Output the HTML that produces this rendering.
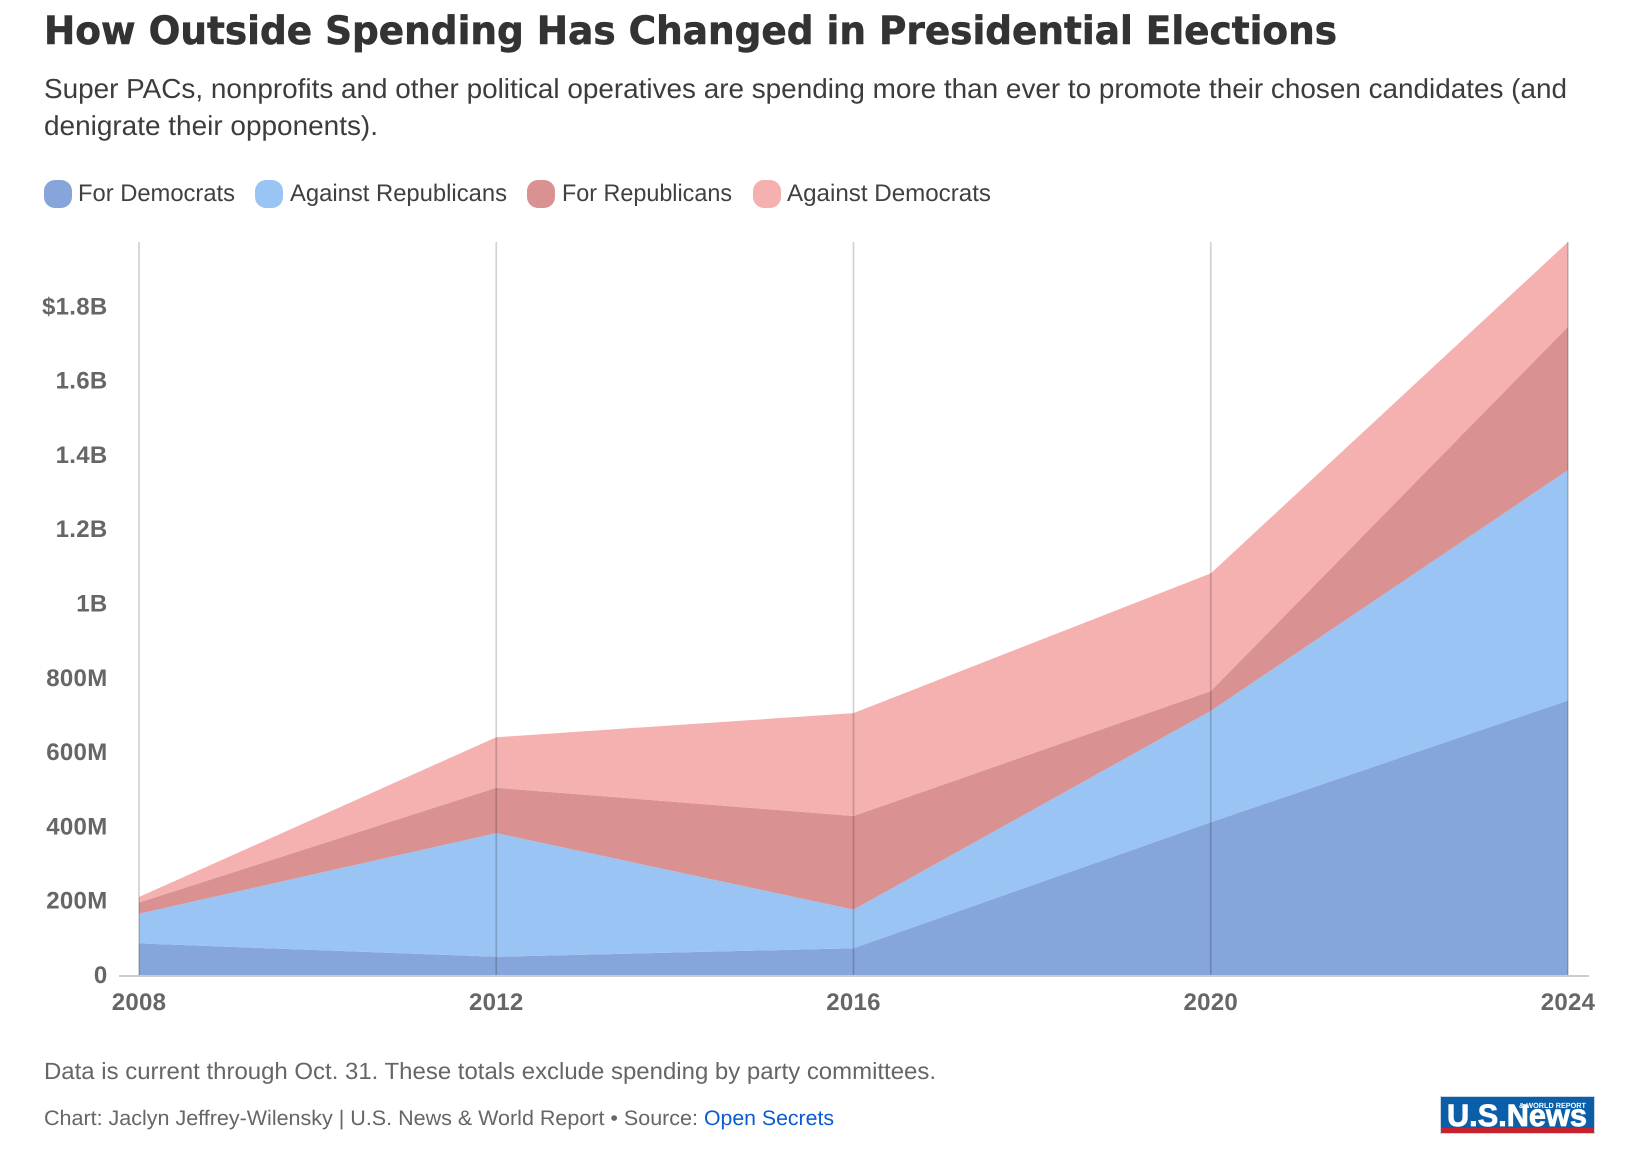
<!DOCTYPE html>
<html lang="en">
<head>
<meta charset="utf-8">
<title>How Outside Spending Has Changed in Presidential Elections</title>
<style>
html,body{margin:0;padding:0;background:#fff;}
svg{display:block;text-rendering:geometricPrecision;}
text{font-family:"Liberation Sans",sans-serif;}
.legend-label{font-size:24px;fill:#404040;}
.tick{font-size:24px;font-weight:700;fill:#666;letter-spacing:.3px;}
</style>
</head>
<body>
<svg id="chart" xmlns="http://www.w3.org/2000/svg" width="1634" height="1152" viewBox="0 0 1634 1152">
  <rect x="0" y="0" width="1634" height="1152" fill="#fff"/>
  <text x="44" y="44" textLength="1293" lengthAdjust="spacingAndGlyphs" style="font-family:'DejaVu Sans',sans-serif;font-weight:700;font-size:39px" fill="#333" stroke="#333" stroke-width="0.6">How Outside Spending Has Changed in Presidential Elections</text>
  <text x="44" y="98" textLength="1523" lengthAdjust="spacingAndGlyphs" font-size="27.5" fill="#3c3c3c">Super PACs, nonprofits and other political operatives are spending more than ever to promote their chosen candidates (and</text>
  <text x="44" y="135" textLength="334" lengthAdjust="spacingAndGlyphs" font-size="27.5" fill="#3c3c3c">denigrate their opponents).</text>

  <g>
    <rect x="44" y="180" width="28" height="28" rx="11" fill="#86a5db"/>
    <text class="legend-label" x="78" y="201" textLength="157" lengthAdjust="spacingAndGlyphs">For Democrats</text>
    <rect x="255" y="180" width="28" height="28" rx="11" fill="#9ac4f3"/>
    <text class="legend-label" x="290" y="201" textLength="217" lengthAdjust="spacingAndGlyphs">Against Republicans</text>
    <rect x="527" y="180" width="28" height="28" rx="11" fill="#da9191"/>
    <text class="legend-label" x="562" y="201" textLength="170" lengthAdjust="spacingAndGlyphs">For Republicans</text>
    <rect x="753" y="180" width="28" height="28" rx="11" fill="#f5b0b0"/>
    <text class="legend-label" x="787" y="201" textLength="204" lengthAdjust="spacingAndGlyphs">Against Democrats</text>
  </g>

  <g id="areas"></g>
  <g id="grid"></g>
  <line x1="119" y1="976" x2="1589" y2="976" stroke="#ccc" stroke-width="2"/>
  <g id="yticks"></g>
  <g id="xticks"></g>

  <text x="44" y="1079" textLength="892" lengthAdjust="spacingAndGlyphs" font-size="23.5" fill="#666">Data is current through Oct. 31. These totals exclude spending by party committees.</text>
  <text x="44" y="1125" textLength="654" lengthAdjust="spacingAndGlyphs" font-size="21" fill="#666">Chart: Jaclyn Jeffrey-Wilensky | U.S. News &amp; World Report • Source:</text>
  <text x="704" y="1125" textLength="130" lengthAdjust="spacingAndGlyphs" font-size="21" fill="#0b5bd3" style="cursor:pointer">Open Secrets</text>

  <g>
    <rect x="1440.5" y="1096.5" width="154" height="37" fill="#0a5fa8" stroke="#c9d6e4" stroke-width="1"/>
    <rect x="1441" y="1128" width="153" height="5" fill="#c4232e"/>
    <text x="1447" y="1126" textLength="140" lengthAdjust="spacingAndGlyphs" font-size="31" font-weight="700" fill="#fff" stroke="#fff" stroke-width="0.8">U.S.News</text>
    <text x="1519" y="1108" textLength="67" lengthAdjust="spacingAndGlyphs" font-size="7.5" font-weight="700" fill="#fff">&amp; WORLD REPORT</text>
  </g>
</svg>
<script>
// Spending in millions of dollars.
var years = [2008, 2012, 2016, 2020, 2024];
var forDemocrats = [85, 49, 72, 411, 739];
var againstRepublicans = [80, 333, 104, 300, 620];
var forRepublicans = [30, 122, 252, 53, 386];
var againstDemocrats = [15, 136, 277, 317, 228];
var yTickValues = [0, 200, 400, 600, 800, 1000, 1200, 1400, 1600, 1800];
var yTickLabels = ['0', '200M', '400M', '600M', '800M', '1B', '1.2B', '1.4B', '1.6B', '$1.8B'];

var NS = 'http://www.w3.org/2000/svg';
var plotLeft = 139, plotRight = 1568, plotBottom = 975, pxPer200M = 74.3;

function xScale(year) {
  return plotLeft + (year - years[0]) / (years[years.length - 1] - years[0]) * (plotRight - plotLeft);
}
function yScale(value) {
  return plotBottom - value / 200 * pxPer200M;
}
function make(tag, parentId) {
  var el = document.createElementNS(NS, tag);
  document.getElementById(parentId).appendChild(el);
  return el;
}

var bands = [
  { name: 'area-for-democrats', values: forDemocrats, fill: '#86a5db' },
  { name: 'area-against-republicans', values: againstRepublicans, fill: '#9ac4f3' },
  { name: 'area-for-republicans', values: forRepublicans, fill: '#da9191' },
  { name: 'area-against-democrats', values: againstDemocrats, fill: '#f5b0b0' }
];

var baseline = years.map(function () { return 0; });
bands.forEach(function (band) {
  var top = baseline.map(function (b, i) { return b + band.values[i]; });
  var d = '';
  years.forEach(function (yr, i) {
    d += (i ? 'L' : 'M') + xScale(yr).toFixed(2) + ' ' + yScale(top[i]).toFixed(2);
  });
  for (var i = years.length - 1; i >= 0; i--) {
    d += 'L' + xScale(years[i]).toFixed(2) + ' ' + yScale(baseline[i]).toFixed(2);
  }
  d += 'Z';
  var path = make('path', 'areas');
  
  
  path.setAttribute('d', d);
  path.setAttribute('fill', band.fill);
  baseline = top;
});

var maxTotal = Math.max.apply(null, baseline);

years.forEach(function (yr) {
  var line = make('line', 'grid');
  
  
  line.setAttribute('x1', xScale(yr));
  line.setAttribute('x2', xScale(yr));
  line.setAttribute('y1', yScale(maxTotal));
  line.setAttribute('y2', plotBottom);
  line.setAttribute('stroke', 'rgba(0,0,0,0.18)');
  line.setAttribute('stroke-width', '1.7');

  var label = make('text', 'xticks');
  
  
  label.setAttribute('class', 'tick');
  label.setAttribute('x', xScale(yr));
  label.setAttribute('y', 1010);
  label.setAttribute('text-anchor', 'middle');
  label.textContent = String(yr);
});

yTickValues.forEach(function (v, i) {
  var label = make('text', 'yticks');
  
  
  label.setAttribute('class', 'tick');
  label.setAttribute('x', 107.5);
  label.setAttribute('y', yScale(v) + 8);
  label.setAttribute('text-anchor', 'end');
  label.textContent = yTickLabels[i];
});
</script>
</body>
</html>
